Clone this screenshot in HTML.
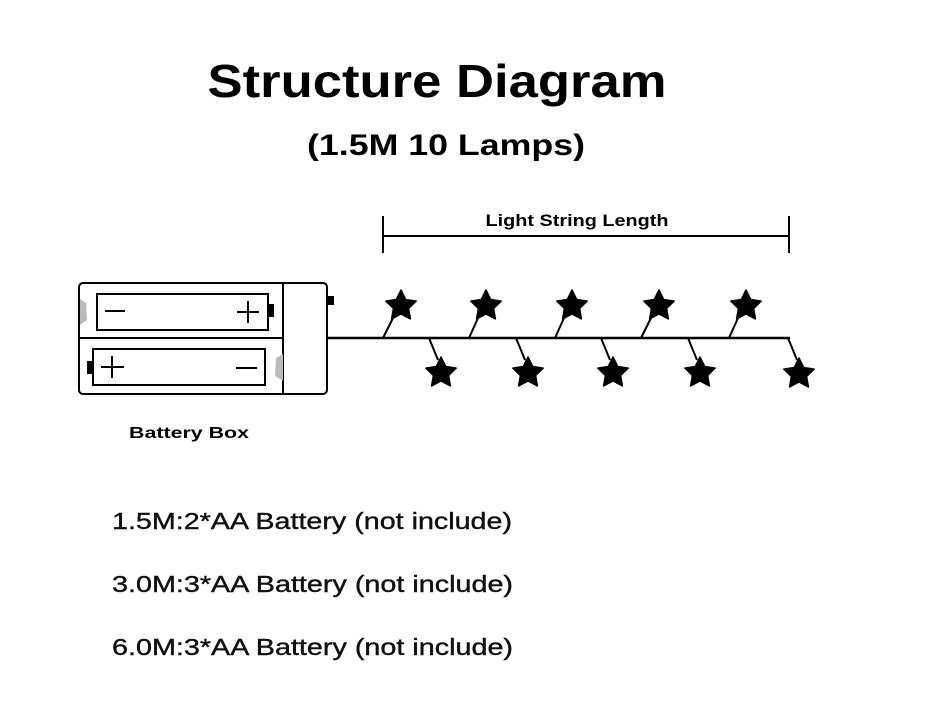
<!DOCTYPE html>
<html><head><style>body{margin:0;background:#fff}svg{display:block}</style></head><body>
<svg width="930" height="717" viewBox="0 0 930 717" xmlns="http://www.w3.org/2000/svg" font-family="Liberation Sans, Arial, sans-serif">
<defs>
<polygon id="s" points="0,-16 4.7,-6.5 15.2,-4.9 7.6,2.5 9.4,12.9 0,8 -9.4,12.9 -7.6,2.5 -15.2,-4.9 -4.7,-6.5" fill="#000" stroke="#000" stroke-width="1.5" stroke-linejoin="round"/>
</defs>
<text x="437" y="97" text-anchor="middle" font-size="46" font-weight="bold" textLength="459" lengthAdjust="spacingAndGlyphs">Structure Diagram</text>
<text x="446" y="155" text-anchor="middle" font-size="30" font-weight="bold" textLength="278" lengthAdjust="spacingAndGlyphs">(1.5M 10 Lamps)</text>
<text x="577" y="226" text-anchor="middle" font-size="17" font-weight="bold" textLength="183" lengthAdjust="spacingAndGlyphs">Light String Length</text>
<g stroke="#000" stroke-width="2">
<line x1="383" y1="236" x2="789" y2="236"/>
<line x1="383" y1="216" x2="383" y2="253"/>
<line x1="789" y1="216" x2="789" y2="253"/>
</g>
<g stroke="#000" stroke-width="2" fill="none">
<rect x="79" y="283" width="248" height="111" rx="4"/>
<line x1="283" y1="283" x2="283" y2="394"/>
<line x1="79" y1="338" x2="283" y2="338"/>
<rect x="97" y="294" width="171" height="36"/>
<rect x="93" y="349" width="172" height="36"/>
<line x1="105" y1="311" x2="125" y2="311"/>
<line x1="237" y1="312" x2="259" y2="312"/><line x1="248" y1="301" x2="248" y2="323"/>
<line x1="101" y1="367" x2="124" y2="367"/><line x1="112" y1="356" x2="112" y2="378"/>
<line x1="236" y1="368" x2="257" y2="368"/>
</g>
<rect x="268" y="304" width="6" height="13" fill="#000"/>
<rect x="87" y="361" width="6" height="13" fill="#000"/>
<rect x="326" y="296" width="8" height="9" fill="#000"/>
<polygon points="80,299 86,303 87,320 80,325" fill="#bbb"/>
<polygon points="283,354 276,358 275,376 283,381" fill="#bbb"/>
<text x="129" y="438" font-size="16" font-weight="bold" textLength="120" lengthAdjust="spacingAndGlyphs">Battery  Box</text>
<line x1="327" y1="338" x2="790" y2="338" stroke="#000" stroke-width="2.5"/>
<g stroke="#000" stroke-width="2">
<line x1="383" y1="338" x2="393" y2="318"/>
<line x1="469" y1="338" x2="478" y2="318"/>
<line x1="555" y1="338" x2="564" y2="318"/>
<line x1="641" y1="338" x2="651" y2="318"/>
<line x1="729" y1="338" x2="738" y2="318"/>
<line x1="429" y1="338" x2="438" y2="360"/>
<line x1="516" y1="338" x2="525" y2="360"/>
<line x1="601" y1="338" x2="610" y2="360"/>
<line x1="688" y1="338" x2="697" y2="360"/>
<line x1="788" y1="338" x2="797" y2="360"/>
</g>
<use href="#s" x="401" y="306"/><use href="#s" x="486" y="306"/><use href="#s" x="572" y="306"/><use href="#s" x="659" y="306"/><use href="#s" x="746" y="306"/>
<use href="#s" x="441" y="373"/><use href="#s" x="528" y="373"/><use href="#s" x="613" y="373"/><use href="#s" x="700" y="373"/><use href="#s" x="799" y="374"/>
<g font-size="23" fill="#111" stroke="#111" stroke-width="0.4">
<text x="112" y="529" textLength="400" lengthAdjust="spacingAndGlyphs">1.5M:2*AA Battery (not include)</text>
<text x="112" y="592" textLength="401" lengthAdjust="spacingAndGlyphs">3.0M:3*AA Battery (not include)</text>
<text x="112" y="655" textLength="401" lengthAdjust="spacingAndGlyphs">6.0M:3*AA Battery (not include)</text>
</g>
</svg>
</body></html>
